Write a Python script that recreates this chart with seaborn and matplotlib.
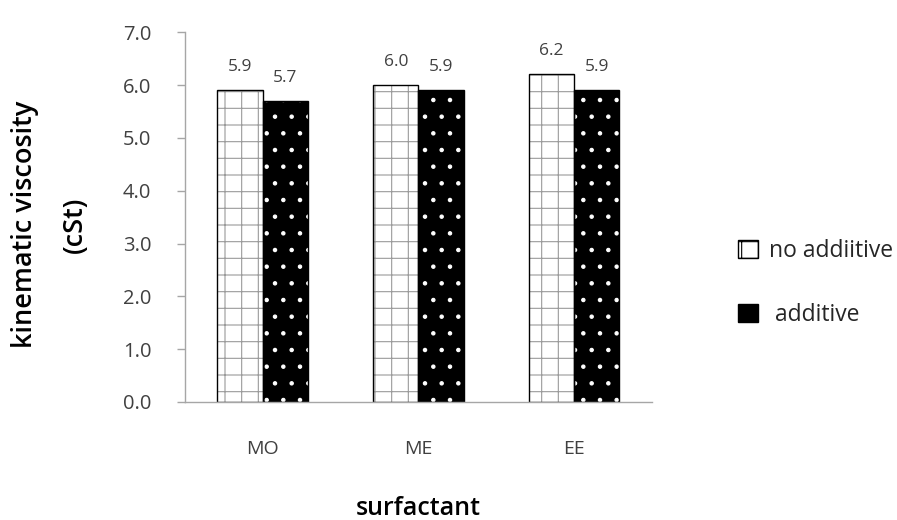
import matplotlib
matplotlib.use("Agg")
import matplotlib.pyplot as plt
import matplotlib.patches as mpatches
import seaborn as sns
import pandas as pd

surfactants = ["MO", "ME", "EE"]
no_additive = [5.9, 6.0, 6.2]
additive = [5.7, 5.9, 5.9]
series_names = ["no addiitive", "additive"]

df = pd.DataFrame({
    "surfactant": surfactants * 2,
    "viscosity": no_additive + additive,
    "group": [series_names[0]] * 3 + [series_names[1]] * 3,
})

sns.set_style("white")
plt.rcParams["font.family"] = ["Open Sans", "DejaVu Sans"]
plt.rcParams["hatch.linewidth"] = 0.8

fig = plt.figure(figsize=(8.97, 5.2), dpi=100)
ax = fig.add_axes([0.206, 0.227, 0.521, 0.711])

sns.barplot(data=df, x="surfactant", y="viscosity", hue="group",
            hue_order=series_names, order=surfactants,
            palette=["white", "black"], width=0.58, gap=0,
            legend=False, ax=ax, errorbar=None)

# styles per series: (face, hatch, hatch colour)
styles = [("white", "+", "#9a9a9a"), ("black", ".", "white")]
for i, cont in enumerate(ax.containers):
    face, hatch, hcol = styles[i]
    for bar in cont:
        bar.set_facecolor(face)
        bar.set_hatch(hatch)
        bar.set_edgecolor(hcol)
        bar.set_linewidth(0)
        ax.add_patch(mpatches.Rectangle(bar.get_xy(), bar.get_width(), bar.get_height(),
                                        fill=False, edgecolor="black", linewidth=1.0))
    ax.bar_label(cont, fmt="%.1f", padding=11, fontsize=12.5, color="#404040")

ax.set_ylim(0, 7)
ax.set_yticks([0, 1, 2, 3, 4, 5, 6, 7])
ax.set_yticklabels([f"{v:.1f}" for v in range(8)])
ax.set_xlim(-0.5, 2.5)

for s in ["top", "right"]:
    ax.spines[s].set_visible(False)
for s in ["left", "bottom"]:
    ax.spines[s].set_color("#a6a6a6")
    ax.spines[s].set_linewidth(1.0)

ax.tick_params(axis="y", which="both", left=True, length=6, width=1, color="#a6a6a6",
               labelsize=14.5, labelcolor="#404040", pad=18)
ax.tick_params(axis="x", bottom=False, labelsize=14, labelcolor="#404040", pad=24)

ax.set_xlabel("surfactant", fontsize=18, fontweight="semibold", color="black")
ax.xaxis.set_label_coords(0.5, -0.255)
ax.set_ylabel("kinematic viscosity\n(cSt)", fontsize=19.5, fontweight="semibold",
              color="black", linespacing=2.05)
ax.yaxis.set_label_coords(-0.205, 0.48)

handles = [mpatches.Patch(facecolor="white", edgecolor="black", hatch="+", label=series_names[0]),
           mpatches.Patch(facecolor="black", edgecolor="black", hatch=".", label=" " + series_names[1])]
fig.legend(handles=handles, loc="center left", bbox_to_anchor=(0.8, 0.456),
           frameon=False, fontsize=16.5, labelspacing=1.75, handlelength=0.85,
           handleheight=0.85, handletextpad=0.5, borderpad=0.4, labelcolor="#262626")

fig.savefig("out.png", dpi=100)
